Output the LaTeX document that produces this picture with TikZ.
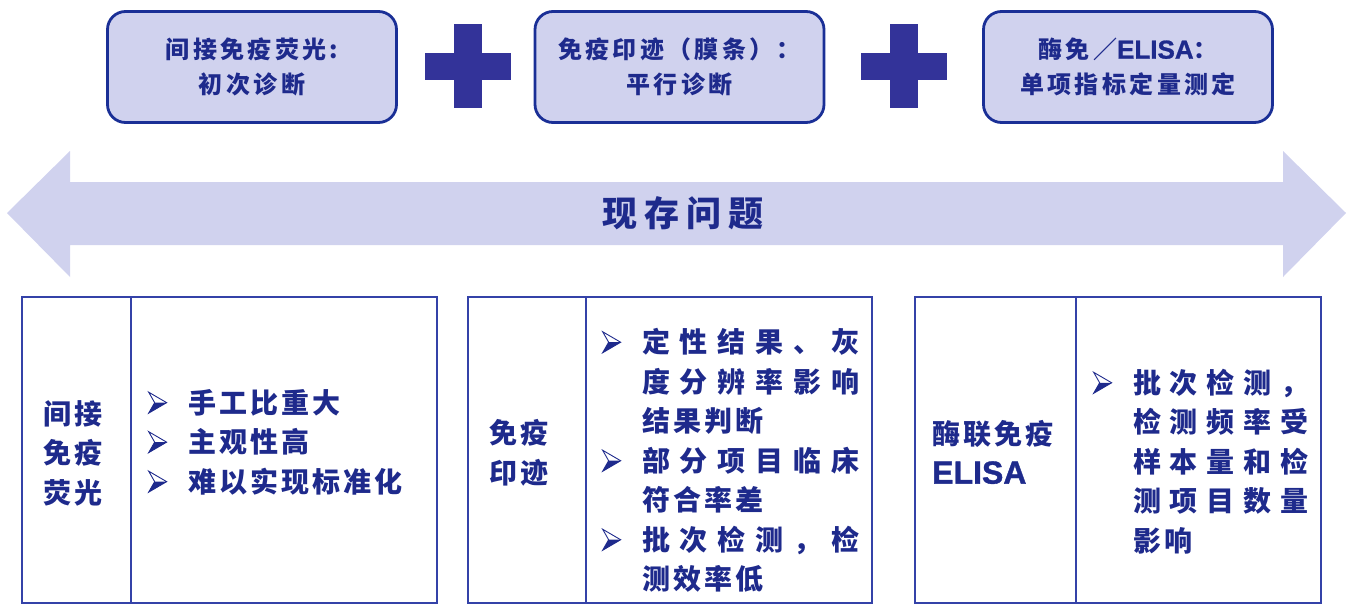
\documentclass[tikz,border=0pt]{standalone}
\usepackage{fontspec}
\newfontfamily\cjk{Noto Sans CJK SC}
\newfontfamily\cjktop[LetterSpace=14]{Noto Sans CJK SC}
\newfontfamily\cjktab[LetterSpace=11]{Noto Sans CJK SC}
\newfontfamily\cjktitle[LetterSpace=20]{Noto Sans CJK SC}
\font\elisaA="Liberation Sans/B:embolden=1" at 26pt
\font\elisaB="Liberation Sans/B:embolden=1.2" at 32pt
\definecolor{fillc}{HTML}{D0D2EE}
\definecolor{boxc}{HTML}{1A2F96}
\definecolor{plusc}{HTML}{333399}
\definecolor{textc}{HTML}{1E2A8C}
\definecolor{tabc}{HTML}{3442A8}
\newcommand\toptext{\cjktop\bfseries\fontsize{24}{35}\selectfont}
\newcommand\tabtext{\cjktab\bfseries\fontsize{28}{39.5}\selectfont}
\newcommand\jl[2]{\makebox[#1][s]{\cjk\bfseries #2}}
\newcommand\blt{\makebox[40pt][l]{\tikz[x=1pt,y=1pt,baseline=0pt]{%
  \fill[textc] (0,0) -- (18,10.5) -- (6,10.5) -- cycle;
  \draw[textc, line width=0.9pt, line join=miter] (6,10.5) -- (0,21) -- (18,10.5) -- (0,0) -- cycle;}}}
\newcommand\ind{\hspace*{40pt}}
\begin{document}
\begin{tikzpicture}[x=1pt,y=-1pt,
  topbox/.style={draw=boxc, fill=fillc, line width=2.8pt, rounded corners=18pt,
    minimum width=289pt, minimum height=111pt, align=center, text=textc, font=\toptext, inner sep=0pt},
  celltext/.style={text=textc, font=\tabtext, inner sep=0pt},
  tabline/.style={draw=tabc, line width=1.6pt},
  plussign/.pic={\fill[plusc] (-43,-13.5) rectangle (43,13.5); \fill[plusc] (-14,-42) rectangle (14,42);}
]
\useasboundingbox (0,0) rectangle (1352,605);

% top boxes
\node[topbox] (b1) at (252,67) {间接免疫荧光:\\初次诊断};
\node[topbox] (b2) at (679.5,67) {免疫印迹（膜条）：\\平行诊断};
\node[topbox] (b3) at (1128,67) {酶免／{\elisaA ELISA}：\\单项指标定量测定};
\pic at (468,66) {plussign};
\pic at (903.5,66) {plussign};

% double arrow
\fill[fillc] (7,213) -- (70,151) -- (70,182) -- (1283,182) -- (1283,151) -- (1346,213)
  -- (1283,277) -- (1283,245) -- (70,245) -- (70,277) -- cycle;
\node[text=textc, font=\cjktitle\bfseries\fontsize{35}{35}\selectfont, inner sep=0pt] (title) at (683,213) {现存问题};

% tables
\draw[tabline] (22,297) rectangle (437,603);
\draw[tabline] (131,297) -- (131,603);
\draw[tabline] (468,297) rectangle (872,603);
\draw[tabline] (586,297) -- (586,603);
\draw[tabline] (915,297) rectangle (1321,603);
\draw[tabline] (1076,297) -- (1076,603);

% table 1
\node[celltext, align=center] (t1l) at (73,453) {间接\\免疫\\荧光};
\node[celltext, align=left, anchor=west] (t1r) at (148,442) {%
\blt 手工比重大\\
\blt 主观性高\\
\blt 难以实现标准化};

% table 2
\node[celltext, align=center] (t2l) at (519,453) {免疫\\印迹};
\node[celltext, align=left, anchor=west] (t2r) at (602,460.5) {%
\blt\jl{217pt}{定\hfill 性\hfill 结\hfill 果\hfill 、\hfill 灰}\\
\ind\jl{217pt}{度\hfill 分\hfill 辨\hfill 率\hfill 影\hfill 响}\\
\ind 结果判断\\
\blt\jl{217pt}{部\hfill 分\hfill 项\hfill 目\hfill 临\hfill 床}\\
\ind 符合率差\\
\blt\jl{217pt}{批\hfill 次\hfill 检\hfill 测\hfill ，\hfill 检}\\
\ind 测效率低};

% table 3
\node[celltext, align=left, anchor=west] (t3l) at (932,452) {酶联免疫\\{\elisaB ELISA}};
\node[celltext, align=left, anchor=west] (t3r) at (1093,461.5) {%
\blt\jl{175pt}{批\hfill 次\hfill 检\hfill 测\hfill ，}\\
\ind\jl{175pt}{检\hfill 测\hfill 频\hfill 率\hfill 受}\\
\ind\jl{175pt}{样\hfill 本\hfill 量\hfill 和\hfill 检}\\
\ind\jl{175pt}{测\hfill 项\hfill 目\hfill 数\hfill 量}\\
\ind 影响};
\end{tikzpicture}
\end{document}
